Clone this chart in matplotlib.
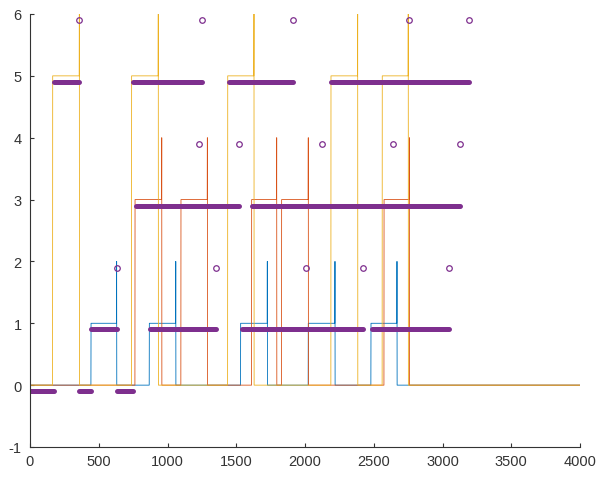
import numpy as np
import matplotlib
matplotlib.use("Agg")
import matplotlib.pyplot as plt

plt.rcParams["axes.unicode_minus"] = False

# step signals: rise time, fall time (spike at the falling edge)
blue_rise = [444, 868, 1532, 2024, 2480]
blue_fall = [630, 1060, 1726, 2218, 2669]
orange_rise = [764, 1098, 1612, 1830, 2575]
orange_fall = [958, 1290, 1794, 2024, 2759]
yellow_rise = [165, 739, 1438, 2189, 2562]
yellow_fall = [359, 933, 1629, 2383, 2751]
t_end = 4000

# detected states (purple), segments as (start, end)
state_m01 = [(0, 177), (358, 445), (632, 746)]
state_09 = [(444, 630), (870, 1350), (1540, 2424), (2490, 3047)]
state_29 = [(769, 1522), (1612, 3127)]
state_49 = [(175, 359), (752, 1253), (1445, 1910), (2192, 3193)]

# single detections
event_19 = [630, 1350, 2007, 2424, 3047]
event_39 = [1229, 1522, 2127, 2642, 3127]
event_59 = [359, 1253, 1910, 2754, 3193]

BLUE = "#0072BD"
ORANGE = "#D95319"
YELLOW = "#EDB120"
PURPLE = "#7E2F8E"
AXC = "#333333"


def pulse_line(rise, fall, level):
    xs = [0]
    ys = [0]
    for r, f in zip(rise, fall):
        xs += [r - 1, r, f - 1, f, f + 1]
        ys += [0, level, level, level + 1, 0]
    xs.append(t_end)
    ys.append(0)
    return xs, ys


fig = plt.figure(figsize=(6.01, 4.81), dpi=100)
ax = fig.add_axes([30 / 601, 33 / 481, 550 / 601, 433 / 481])

for rise, fall, level, col in [(blue_rise, blue_fall, 1, BLUE),
                               (orange_rise, orange_fall, 3, ORANGE),
                               (yellow_rise, yellow_fall, 5, YELLOW)]:
    xs, ys = pulse_line(rise, fall, level)
    ax.plot(xs, ys, color=col, linewidth=0.6)

for segs, lvl in [(state_m01, -0.1), (state_09, 0.9), (state_29, 2.9), (state_49, 4.9)]:
    for a, b in segs:
        ax.plot([a, b], [lvl, lvl], color=PURPLE, linewidth=3.6,
                solid_capstyle="round")

for ev, lvl in [(event_19, 1.9), (event_39, 3.9), (event_59, 5.9)]:
    ax.plot(ev, [lvl] * len(ev), "o", markerfacecolor="none",
            markeredgecolor=PURPLE, markersize=4.0, markeredgewidth=0.9)

ax.set_xlim(0, 4000)
ax.set_ylim(-1, 6)
ax.set_xticks(np.arange(0, 4001, 500))
ax.set_yticks(np.arange(-1, 7, 1))

for s in ["top", "right"]:
    ax.spines[s].set_visible(False)
for s in ["left", "bottom"]:
    ax.spines[s].set_color(AXC)
    ax.spines[s].set_linewidth(0.8)

ax.tick_params(direction="in", length=3, width=0.8, color=AXC,
               labelcolor=AXC, labelsize=10.5)
ax.tick_params(axis="y", pad=6)
ax.tick_params(axis="x", pad=5)
for lab in ax.get_xticklabels() + ax.get_yticklabels():
    lab.set_family("Liberation Sans")

plt.savefig("out.png", dpi=100)
